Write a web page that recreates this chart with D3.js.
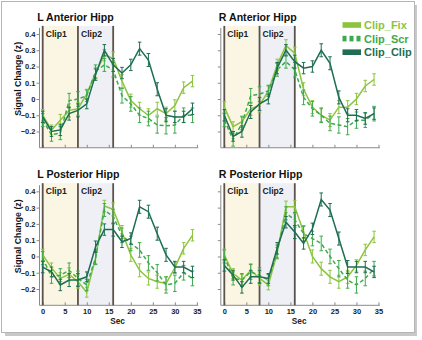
<!DOCTYPE html>
<html><head><meta charset="utf-8">
<script src="https://cdn.jsdelivr.net/npm/d3@7"></script>
<style>html,body{margin:0;padding:0;background:#fff;}svg{display:block;font-family:"Liberation Sans",Arial,sans-serif;}</style>
</head><body><svg id="c" width="422" height="340"></svg>
<script>
const timePoints = [0,2,4,6,8,10,12,14,16,18,20,22,24,26,28,30,32,34];
const seriesNames = ["Clip_Fix","Clip_Scr","Clip_Clip"];
const panelTitles = ["L Anterior Hipp","R Anterior Hipp","L Posterior Hipp","R Posterior Hipp"];
const yTicks = [-0.2,-0.1,0,0.1,0.2,0.3,0.4];
const xTicks = [0,5,10,15,20,25,30,35];
const clipBounds = [0,8,16];
const clipLabels = ["Clip1","Clip2"];

const lAntFix  = [-0.10,-0.19,-0.13,-0.07,-0.06,0.03,0.16,0.27,0.25,0.11,-0.01,-0.06,-0.10,-0.06,-0.09,-0.04,0.07,0.11];
const lAntScr  = [-0.13,-0.22,-0.21,-0.01,0.00,0.02,0.17,0.21,0.18,0.02,-0.03,-0.10,-0.12,-0.16,-0.165,-0.16,-0.10,-0.10];
const lAntClip = [-0.11,-0.20,-0.19,-0.09,-0.07,-0.03,0.15,0.30,0.21,0.16,0.21,0.31,0.24,0.06,-0.10,-0.11,-0.11,-0.06];

const rAntFix  = [-0.05,-0.17,-0.14,-0.06,-0.04,0.05,0.21,0.33,0.28,0.06,-0.05,-0.10,-0.13,-0.05,-0.05,0.00,0.08,0.12];
const rAntScr  = [-0.13,-0.25,-0.15,0.02,0.03,0.05,0.18,0.23,0.18,0.01,-0.06,-0.10,-0.15,-0.16,-0.17,-0.13,-0.13,-0.09];
const rAntClip = [-0.10,-0.23,-0.20,-0.08,-0.03,0.00,0.19,0.30,0.23,0.19,0.20,0.30,0.22,0.01,-0.10,-0.10,-0.12,-0.09];

const lPostFix  = [0.01,-0.07,-0.135,-0.11,-0.155,-0.22,-0.01,0.31,0.29,0.15,0.01,-0.085,-0.135,-0.155,-0.165,-0.07,0.05,0.13];
const lPostScr  = [-0.01,-0.125,-0.115,-0.085,-0.135,-0.175,-0.01,0.285,0.245,0.13,0.08,0.04,-0.04,-0.10,-0.175,-0.165,-0.10,-0.135];
const lPostClip = [-0.065,-0.095,-0.175,-0.145,-0.145,-0.125,0.06,0.165,0.165,0.09,0.11,0.305,0.275,0.14,0.01,-0.065,-0.065,-0.095];

const rPostFix  = [0.01,-0.105,-0.145,-0.085,-0.135,-0.175,0.02,0.305,0.305,0.15,0.00,-0.075,-0.125,-0.155,-0.125,-0.055,0.04,0.12];
const rPostScr  = [0.00,-0.135,-0.145,-0.095,-0.115,-0.145,0.03,0.265,0.225,0.14,0.11,0.08,0.00,-0.075,-0.145,-0.175,-0.135,-0.075];
const rPostClip = [-0.055,-0.115,-0.19,-0.125,-0.125,-0.135,0.05,0.21,0.15,0.08,0.17,0.35,0.285,0.11,-0.065,-0.065,-0.065,-0.095];

const errFix  = [0.035,0.03,0.035,0.04,0.04,0.03,0.035,0.035,0.04,0.04,0.04,0.04,0.04,0.04,0.04,0.035,0.035,0.035];
const errScr  = [0.04,0.04,0.04,0.045,0.045,0.035,0.04,0.04,0.045,0.045,0.045,0.045,0.045,0.05,0.05,0.05,0.045,0.045];
const errClip = [0.035,0.03,0.035,0.04,0.04,0.03,0.035,0.035,0.04,0.035,0.035,0.04,0.04,0.04,0.04,0.035,0.035,0.035];

const colors = ["#8cc43f","#3daa4c","#1d6e52"];
const panelData = [
  [lAntFix,lAntScr,lAntClip],[rAntFix,rAntScr,rAntClip],
  [lPostFix,lPostScr,lPostClip],[rPostFix,rPostScr,rPostClip]
];
const errData = [errFix,errScr,errClip];

const svg = d3.select("#c");
// frame + shadow
svg.append("rect").attr("x",5).attr("y",5).attr("width",412).attr("height",331).attr("fill","#c8c8c8");
svg.append("rect").attr("x",1.5).attr("y",1.5).attr("width",413).attr("height",331).attr("fill","#fff").attr("stroke","#b5b5b5").attr("stroke-width",1);

const layouts = [
  {x0:42.7, axisX:39.5, top:25.9, bottom:147.75, labels:false, ylab:true},
  {x0:224.3, axisX:220.8, top:25.9, bottom:147.75, labels:false, ylab:false},
  {x0:42.7, axisX:39.5, top:183.2, bottom:305.3, labels:true, ylab:true},
  {x0:224.3, axisX:220.8, top:183.2, bottom:305.3, labels:true, ylab:false}
];

layouts.forEach((L,pi)=>{
  const pxPerSec = 4.405;
  const x = d3.scaleLinear().domain([0,35]).range([L.x0, L.x0+35*pxPerSec]);
  const y = d3.scaleLinear().domain([-0.3,0.45]).range([L.bottom, L.top]);
  const g = svg.append("g");
  const fills = ["#fbf6e3","#eef0f6"];
  for(let i=0;i<2;i++){
    g.append("rect").attr("x",x(clipBounds[i])).attr("y",L.top)
      .attr("width",x(clipBounds[i+1])-x(clipBounds[i])).attr("height",L.bottom-L.top).attr("fill",fills[i]);
  }
  const yAxis = d3.axisLeft(y).tickValues(yTicks).tickSize(3).tickFormat(L.ylab? (d=> d===0?"0":d3.format(".1f")(d)) : "");
  const ya = g.append("g").attr("transform",`translate(${L.axisX},0)`).call(yAxis);
  ya.select(".domain").attr("d",`M0,${L.top+2}V${L.bottom}`);
  const xa = g.append("g").attr("transform",`translate(0,${L.bottom})`)
    .call(d3.axisBottom(x).tickValues(xTicks).tickSizeInner(-3).tickSizeOuter(0).tickFormat(L.labels? d3.format("d") : ""));
  xa.select(".domain").attr("d",`M${L.axisX},0H${x(35.3)}`);
  [ya,xa].forEach(a=>{
    a.selectAll("path,line").attr("stroke","#8a8a8a").attr("stroke-width",1);
    a.selectAll("text").attr("font-size",7.5).attr("font-weight","bold").attr("fill","#222").attr("font-family","Liberation Sans, Arial, sans-serif");
  });
  ya.selectAll("text").attr("x",-4);
  xa.selectAll("text").attr("y",3);
  clipBounds.forEach(b=>{
    g.append("line").attr("x1",x(b)).attr("x2",x(b)).attr("y1",L.top).attr("y2",L.bottom)
      .attr("stroke","#5b524b").attr("stroke-width",1.8);
  });
  clipLabels.forEach((t,i)=>{
    g.append("text").attr("x",x(clipBounds[i])+3).attr("y",L.top+11).text(t)
      .attr("font-size",8.6).attr("font-weight","bold").attr("fill","#222");
  });
  g.append("text").attr("x",L.x0-5.5).attr("y",L.top-5).text(panelTitles[pi])
    .attr("font-size",10.6).attr("font-weight","bold").attr("fill","#111");
  if(L.ylab){
    g.append("text").attr("transform",`translate(${L.axisX-19},${(L.top+L.bottom)/2-8}) rotate(-90)`)
      .attr("text-anchor","middle").text("Signal Change (z)").attr("font-size",8.8).attr("font-weight","bold").attr("fill","#111");
  }
  if(L.labels){
    g.append("text").attr("x",x(17)).attr("y",L.bottom+18.5).attr("text-anchor","middle").text("Sec")
      .attr("font-size",8.3).attr("font-weight","bold").attr("fill","#222");
  }
  panelData[pi].forEach((vals,si)=>{
    const pts = timePoints.map((t,i)=>({t, v:vals[i], e:errData[si][i]}));
    const line = d3.line().x(d=>x(d.t)).y(d=>y(d.v));
    g.append("path").datum(pts).attr("d",line).attr("fill","none").attr("stroke",colors[si])
      .attr("stroke-width",1.5).attr("stroke-dasharray", si===1? "4,2.5":null);
    const eb = g.append("g").attr("stroke",colors[si]).attr("stroke-width",1);
    pts.forEach(d=>{
      eb.append("line").attr("x1",x(d.t)).attr("x2",x(d.t)).attr("y1",y(d.v-d.e)).attr("y2",y(d.v+d.e));
      eb.append("line").attr("x1",x(d.t)-1.8).attr("x2",x(d.t)+1.8).attr("y1",y(d.v-d.e)).attr("y2",y(d.v-d.e));
      eb.append("line").attr("x1",x(d.t)-1.8).attr("x2",x(d.t)+1.8).attr("y1",y(d.v+d.e)).attr("y2",y(d.v+d.e));
    });
  });
});

const lg = svg.append("g");
seriesNames.forEach((n,i)=>{
  const yy = 25 + i*13.6;
  if(i===1){
    [0,1,2].forEach(k=> lg.append("rect").attr("x",342.5+k*7).attr("y",yy-2.8).attr("width",4).attr("height",5.6).attr("fill",colors[i]));
  } else {
    lg.append("rect").attr("x",342.5).attr("y",yy-2.8).attr("width",18.5).attr("height",5.6).attr("fill",colors[i]);
  }
  lg.append("text").attr("x",364).attr("y",yy+4).text(n).attr("font-size",11).attr("font-weight","bold").attr("fill",colors[i]);
});
</script></body></html>
